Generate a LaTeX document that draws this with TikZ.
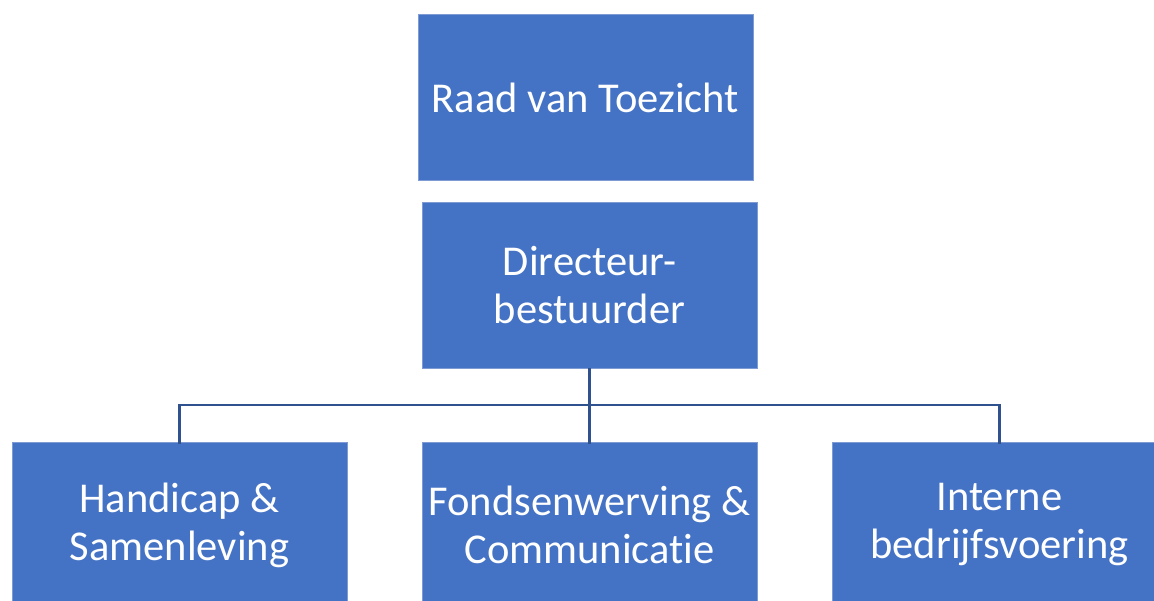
\documentclass[tikz,border=0pt]{standalone}
\usepackage{fontspec}
\setmainfont{Carlito}[Ligatures={NoCommon}]
\definecolor{boxblue}{HTML}{4472C4}
\definecolor{boxedge}{HTML}{7F9BD3}
\definecolor{linkblue}{HTML}{2F528F}
\begin{document}
\begin{tikzpicture}[x=1pt,y=-1pt,
  orgbox/.style={rectangle, fill=boxblue, draw=boxedge, line width=0.8pt,
    minimum width=335pt, minimum height=166pt, inner sep=0pt,
    text=white, align=center, font=\fontsize{42.5}{48}\selectfont},
  link/.style={draw=linkblue, line width=2.5pt}]
\useasboundingbox (0,0) rectangle (1154,601);
\clip (0,0) rectangle (1154,601);
\node[orgbox] (rvt) at (585.5,97.5) {Raad van Toezicht};
\node[orgbox] (dir) at (589.5,285) {Directeur-\\bestuurder};
\node[orgbox] (hs) at (179.5,525) {Handicap \&\\Samenleving};
\node[orgbox] (fc) at (589.5,525) {Fondsenwerving \&\\Communicatie};
\node[orgbox] (ib) at (999.5,525) {Interne\\bedrijfsvoering};
\coordinate (bus) at (589.5,405);
\draw[link] (dir.south) -- (bus);
\draw[link] (bus) -| ([yshift=-2pt]hs.north);
\draw[link] (bus) -| ([yshift=-2pt]ib.north);
\draw[link] (bus) -- ([yshift=-2pt]fc.north);
\end{tikzpicture}
\end{document}
